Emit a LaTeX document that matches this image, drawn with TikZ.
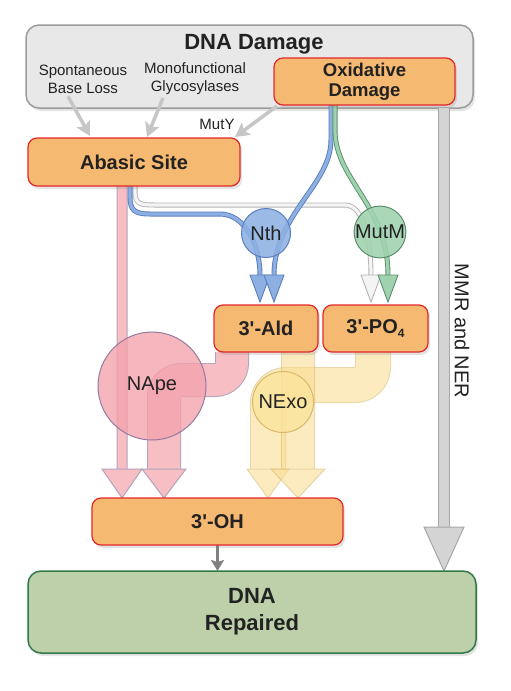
\documentclass[tikz,border=0pt]{standalone}
\usepackage{fontspec}
\setmainfont{Liberation Sans}
\usetikzlibrary{positioning,calc,arrows.meta,shadows}

\definecolor{ink}{HTML}{222222}
\definecolor{boxorange}{HTML}{F5B971}
\definecolor{boxred}{HTML}{E3282B}
\definecolor{dmgfill}{HTML}{E8E8E8}
\definecolor{dmgedge}{HTML}{9C9C9C}
\definecolor{repfill}{HTML}{BDD0A9}
\definecolor{repedge}{HTML}{2F7A48}
\definecolor{bluefill}{HTML}{8DB0E3}
\definecolor{blueedge}{HTML}{5A7DBD}
\definecolor{greenfill}{HTML}{9FD2AF}
\definecolor{greenedge}{HTML}{5D8E6C}
\definecolor{greyfill}{HTML}{F4F4F4}
\definecolor{greyedge}{HTML}{B4B4B4}
\definecolor{pinkfill}{HTML}{F3A2AB}
\definecolor{pinkedge}{HTML}{957AA0}
\definecolor{yelfill}{HTML}{F9DD92}
\definecolor{yeledge}{HTML}{D9B86C}
\definecolor{exofill}{HTML}{FCE49C}
\definecolor{linkgray}{HTML}{C6C6C6}
\definecolor{mmrfill}{HTML}{D4D4D4}
\definecolor{mmredge}{HTML}{A6A6A6}

\pgfdeclarelayer{bg}
\pgfdeclarelayer{links}
\pgfsetlayers{bg,links,main}

\begin{document}
\begin{tikzpicture}
[x=1pt,y=-1pt,
 every node/.style={inner sep=0pt,outer sep=0pt,text=ink},
 shade/.style={drop shadow={opacity=.22,shadow xshift=2pt,shadow yshift=-3pt}},
 state/.style={rectangle,rounded corners=9pt,draw=boxred,fill=boxorange,line width=1.2pt,
   font=\bfseries\fontsize{20}{24}\selectfont,align=center,shade},
 dmgbox/.style={rectangle,rounded corners=13pt,draw=dmgedge,fill=dmgfill,line width=1.5pt,shade},
 repbox/.style={rectangle,rounded corners=13pt,draw=repedge,fill=repfill,line width=1.5pt,
   font=\bfseries\fontsize{22}{27}\selectfont,align=center,shade},
 enzyme/.style={circle,line width=1pt,font=\fontsize{20}{24}\selectfont,fill opacity=.88,text opacity=1},
 note/.style={align=center,font=\fontsize{15}{18}\selectfont},
 graylink/.style={draw=linkgray,line width=3.5pt,-{Stealth[length=14pt,width=15pt,inset=3pt]}},
 bluelink/.style={draw=blueedge,double=bluefill,double distance=3.2pt,line width=.9pt},
 greenlink/.style={draw=greenedge,double=greenfill,double distance=3.2pt,line width=.9pt},
 greylink/.style={draw=greyedge,double=greyfill,double distance=3.2pt,line width=.9pt},
 pinkband/.style={draw=pinkfill,line width=#1-2pt,preaction={draw=pinkedge,line width=#1}},
 yelband/.style={draw=yelfill,line width=#1-2pt,preaction={draw=yeledge,line width=#1}}]
\useasboundingbox (0,0) rectangle (511,691);

% states
\begin{pgfonlayer}{bg}
\node[dmgbox,minimum width=447pt,minimum height=83pt] (damage) at (249.5,66.5) {};
\end{pgfonlayer}
\node[font=\bfseries\fontsize{22}{26}\selectfont] (dmgtitle) at (254,44) {DNA Damage};
\node[note] (spont) at (83,79) {Spontaneous\\Base Loss};
\node[note] (mono)  at (195,79) {Monofunctional\\Glycosylases};
\node[state,minimum width=181pt,minimum height=47pt,font=\bfseries\fontsize{18.5}{20}\selectfont]
  (oxid) at (364.5,81.5) {Oxidative\\Damage};
\node[state,minimum width=212pt,minimum height=48pt] (abasic) at (134,162) {Abasic Site};
\node[note] (muty) at (217,124) {MutY};
\node[state,minimum width=104pt,minimum height=47pt] (ald) at (266,328.5) {3\textquotesingle-Ald};
\node[state,minimum width=105pt,minimum height=47pt] (po4) [right=5pt of ald]
  {3\textquotesingle-PO\raisebox{-.3ex}{\fontsize{12}{12}\selectfont 4}};
\node[state,minimum width=251pt,minimum height=47pt] (oh) at (217.5,521.5) {3\textquotesingle-OH};
\node[repbox,minimum width=448pt,minimum height=82pt] (repaired) at (252,612) {DNA\\Repaired};
\node[font=\fontsize{20}{24}\selectfont,rotate=-90] (mmrner) at (462,331) {MMR and NER};

% enzymes
\node[enzyme,draw=blueedge,fill=bluefill,minimum size=49pt]   (nth)  at (266,233) {Nth};
\node[enzyme,draw=greenedge,fill=greenfill,minimum size=50pt] (mutm) at (380,232) {MutM};
\node[enzyme,draw=pinkedge,fill=pinkfill,minimum size=108pt,fill opacity=.78] (nape) at (152,386) {NApe};
\node[enzyme,draw=yeledge,fill=exofill,minimum size=61pt,fill opacity=.8] (nexo) at (283,402) {NExo};

% band positions
\coordinate (pinkA)  at ($(abasic.south)+(-12,0)$);
\coordinate (pinkB)  at ($(ald.south west)+(18,0)$);
\coordinate (pinkBx) at ($(oh.north west)+(72,0)$);
\coordinate (yelA)   at ($(ald.south east)+(-20,0)$);
\coordinate (yelB)   at ($(po4.south)+(-2.5,0)$);
\coordinate (yelBx)  at ($(nexo.center)+(-15,0)$);
\coordinate (mmr)    at ($(damage.south east)+(-29,0)$);

\begin{pgfonlayer}{links}
% sources of abasic sites
\draw[graylink] ($(spont.south)+(-15,3)$) -- ($(abasic.north west)+(62,-2)$);
\draw[graylink] ($(mono.south)+(-32,3)$)  -- ($(abasic.north west)+(119,-1)$);
\draw[graylink] ($(oxid.south west)+(3,1)$) -- ($(abasic.north east)+(-5,-1)$);

% MMR and NER
\draw[draw=mmrfill,line width=10pt,preaction={draw=mmredge,line width=12pt}]
  (damage.south -| mmr) -- ($(repaired.north -| mmr)+(0,-43)$);
\filldraw[fill=mmrfill,draw=mmredge,line width=1pt]
  (repaired.north -| mmr) ++(-20,-44) -- ++(20,44) -- ++(20,-44) -- cycle;

% glycosylases
\draw[greylink] ($(abasic.south)+(1,0)$) -- ++(0,6)
  .. controls +(0,12) and +(-15,0) .. (155,205) -- (345,205)
  .. controls +(20,0) and +(0,-30) .. ($(po4.north)+(-4.5,-30)$);
\draw[bluelink] ($(abasic.south)+(-4,0)$) -- ++(0,10)
  .. controls +(0,14) and +(-16,0) .. (150,214) -- (220,214)
  .. controls +(25,0) and +(0,-30) .. ($(ald.north)+(-6,-30)$);
\draw[bluelink] ($(oxid.south)+(-33.5,0)$) -- ++(0,35)
  .. controls +(0,45) and +(0,-60) .. ($(ald.north)+(8,-30)$);
\draw[greenlink] ($(oxid.south)+(-29.5,0)$) -- ++(0,25)
  .. controls +(0,50) and +(0,-70) .. ($(po4.north)+(12.5,-30)$);
\filldraw[fill=bluefill,draw=blueedge,line width=.9pt]
  ($(ald.north)+(-6,-3)$) ++(-10,-27) -- ++(10,27) -- ++(10,-27) -- cycle;
\filldraw[fill=bluefill,draw=blueedge,line width=.9pt]
  ($(ald.north)+(8,-3)$) ++(-10,-27) -- ++(10,27) -- ++(10,-27) -- cycle;
\filldraw[fill=greyfill,draw=greyedge,line width=.9pt]
  ($(po4.north)+(-4.5,-3)$) ++(-10,-27) -- ++(10,27) -- ++(10,-27) -- cycle;
\filldraw[fill=greenfill,draw=greenedge,line width=.9pt]
  ($(po4.north)+(12.5,-3)$) ++(-10,-27) -- ++(10,27) -- ++(10,-27) -- cycle;

% NApe
\begin{scope}[transparency group,opacity=.7]
\draw[pinkband=11pt] (pinkA) -- ($(oh.north -| pinkA)+(0,-29)$);
\filldraw[fill=pinkfill,draw=pinkedge,line width=1pt]
  (oh.north -| pinkA) ++(-20,-29) -- ++(20,29) -- ++(20,-29) -- cycle;
\end{scope}
\begin{scope}[transparency group,opacity=.7]
\draw[pinkband=34pt,rounded corners=17pt] (pinkB) -- ++(0,28) -| ($(oh.north -| pinkBx)+(0,-29)$);
\filldraw[fill=pinkfill,draw=pinkedge,line width=1pt]
  (oh.north -| pinkBx) ++(-22,-29) -- ++(22,29) -- ++(22,-29) -- cycle;
\end{scope}

% NExo
\begin{scope}[transparency group,opacity=.6]
\draw[yelband=36pt,rounded corners=18pt] (yelB) -- ++(0,33) -| ($(oh.north -| yelBx)+(0,-29)$);
\filldraw[fill=yelfill,draw=yeledge,line width=1pt]
  (oh.north -| yelBx) ++(-21,-29) -- ++(21,29) -- ++(21,-29) -- cycle;
\end{scope}
\begin{scope}[transparency group,opacity=.6]
\draw[yelband=34pt] (yelA) -- ($(oh.north -| yelA)+(0,-29)$);
\filldraw[fill=yelfill,draw=yeledge,line width=1pt]
  (oh.north -| yelA) ++(-27,-29) -- ++(27,29) -- ++(27,-29) -- cycle;
\end{scope}

% repair
\draw[draw=black!50,line width=3pt,-{Stealth[length=11pt,width=13pt,inset=2pt]}]
  (oh.south) -- (oh.south |- repaired.north);
\end{pgfonlayer}
\end{tikzpicture}
\end{document}
